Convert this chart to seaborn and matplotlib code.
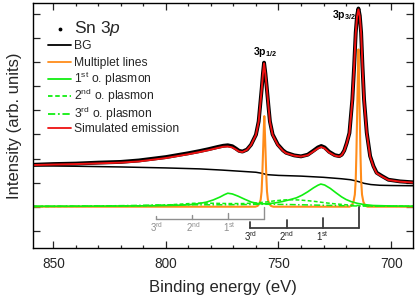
import matplotlib
matplotlib.use('Agg')
import matplotlib.pyplot as plt
import seaborn as sns
from matplotlib.ticker import MultipleLocator

# ---------------- data ----------------
# measured Sn 3p spectrum and simulated emission (binding energy in eV)
energy = [859, 850, 840, 830, 820, 812, 806, 800, 795, 790, 785, 781, 777, 774.5,
          772.5, 770.5, 769, 767.5, 766, 764, 762.2, 760, 758.8, 758.1, 757.4, 756.9,
          756.4, 755.8, 755.2, 754.5, 753.8, 752.6, 750.3, 748, 746.6, 743, 740, 737,
          734.7, 732.5, 731, 729.5, 727.5, 725, 723, 721.9, 720.8, 719.7, 718.5, 717.2,
          716.4, 715.7, 715.1, 714.5, 713.9, 713.3, 712.7, 712.0, 710.8, 709.3, 707.8,
          706.4, 704, 701.2, 696, 690]
data_int = [1.74, 1.77, 1.79, 1.83, 1.86, 1.92, 1.99, 2.06, 2.14, 2.22, 2.31, 2.39, 2.48,
            2.53, 2.55, 2.51, 2.42, 2.32, 2.29, 2.37, 2.57, 2.99, 3.54, 4.24, 4.95, 5.53,
            5.98, 5.52, 4.94, 4.22, 3.54, 3.00, 2.58, 2.34, 2.24, 2.13, 2.09, 2.16, 2.31,
            2.46, 2.52, 2.46, 2.28, 2.14, 2.10, 2.16, 2.33, 2.64, 3.06, 4.45, 5.84, 7.23,
            7.94, 8.23, 7.93, 7.22, 5.83, 4.45, 3.07, 2.10, 1.68, 1.41, 1.27, 1.12, 1.05, 1.01]
sim_int = [1.73, 1.75, 1.77, 1.80, 1.83, 1.88, 1.95, 2.02, 2.10, 2.18, 2.27, 2.35, 2.44,
           2.49, 2.50, 2.46, 2.38, 2.29, 2.27, 2.36, 2.56, 2.98, 3.53, 4.22, 4.93, 5.50,
           5.95, 5.50, 4.93, 4.22, 3.53, 2.98, 2.56, 2.32, 2.22, 2.12, 2.08, 2.14, 2.28,
           2.42, 2.48, 2.42, 2.25, 2.12, 2.08, 2.15, 2.32, 2.63, 3.05, 4.43, 5.81, 7.20,
           7.90, 8.19, 7.90, 7.20, 5.81, 4.43, 3.05, 2.08, 1.66, 1.39, 1.25, 1.11, 1.04, 1.00]

# background
bg_energy = [859, 840, 820, 800, 785, 775, 765, 760, 757.5, 755, 750, 740, 730, 722,
             718, 716, 714, 712, 709, 705, 700, 690]
bg_int = [1.70, 1.68, 1.65, 1.61, 1.57, 1.52, 1.46, 1.43, 1.39, 1.33, 1.30, 1.27, 1.22,
          1.16, 1.12, 1.08, 1.03, 0.97, 0.92, 0.89, 0.88, 0.87]

# multiplet lines
ml_energy = [859, 760.3, 759.3, 758.5, 757.9, 757.5, 757.2, 756.9, 756.6, 756.3, 756.0,
             755.7, 755.4, 755.1, 754.7, 754.1, 753.3, 752.3, 718.5, 717.5, 716.7, 716.1,
             715.7, 715.4, 715.1, 714.8, 714.5, 714.2, 713.9, 713.6, 713.3, 712.9, 712.3,
             711.5, 710.5, 690]
ml_int = [0, 0, 0.03, 0.12, 0.29, 0.63, 1.27, 2.13, 3.0, 3.76, 3.0, 2.13, 1.27, 0.63,
          0.29, 0.12, 0.03, 0, 0, 0.05, 0.2, 0.5, 1.1, 2.2, 3.7, 5.2, 6.53, 5.2, 3.7, 2.2,
          1.1, 0.5, 0.2, 0.05, 0, 0]

# plasmons
p1_energy = [859, 840, 820, 805, 795, 790, 786, 782, 779, 776, 774, 772.5, 770.5, 768,
             765, 762, 759, 756, 752, 748, 745, 742, 739.5, 737, 734.5, 732.5, 731.2,
             729.5, 727, 724.5, 722, 720, 717.7, 715, 712, 708, 700, 690]
p1_int = [0.02, 0.02, 0.03, 0.04, 0.06, 0.08, 0.12, 0.19, 0.28, 0.40, 0.50, 0.56, 0.53,
          0.44, 0.31, 0.19, 0.13, 0.12, 0.15, 0.22, 0.29, 0.37, 0.48, 0.62, 0.78, 0.89,
          0.94, 0.90, 0.76, 0.58, 0.41, 0.30, 0.21, 0.14, 0.09, 0.05, 0.03, 0.02]
p2_energy = [859, 830, 810, 800, 793, 788, 783, 778, 772, 766, 761, 756, 752, 748, 745,
             741, 737, 733, 729, 725, 720, 715, 708, 700, 690]
p2_int = [0.01, 0.02, 0.04, 0.07, 0.11, 0.14, 0.15, 0.14, 0.13, 0.13, 0.15, 0.19, 0.24,
          0.28, 0.29, 0.28, 0.25, 0.21, 0.16, 0.12, 0.08, 0.05, 0.03, 0.02, 0.02]
p3_energy = [859, 830, 815, 805, 795, 785, 775, 765, 760, 752, 745, 735, 725, 715, 700, 690]
p3_int = [0.01, 0.03, 0.05, 0.07, 0.08, 0.08, 0.08, 0.09, 0.10, 0.10, 0.09, 0.07, 0.05,
          0.03, 0.02, 0.01]

# plasmon order brackets
gray_marks = [804.3, 788.2, 772.3, 756.3]
black_marks = [762.5, 746.4, 730.4, 714.4]
order_labels = [r'3$^{\mathrm{rd}}$', r'2$^{\mathrm{nd}}$', r'1$^{\mathrm{st}}$']

peak_labels = [r'$\mathbf{3p_{1/2}}$', r'$\mathbf{3p_{3/2}}$']
peak_label_pos = [(755.8, 6.43), (721.1, 7.96)]

legend_labels = [r'Sn 3$p$', 'BG', 'Multiplet lines', r'1$^{\mathrm{st}}$ o. plasmon',
                 r'2$^{\mathrm{nd}}$ o. plasmon', r'3$^{\mathrm{rd}}$ o. plasmon',
                 'Simulated emission']

# ---------------- styling ----------------
sns.set_style('ticks')
plt.rcParams['font.family'] = ['Liberation Sans', 'DejaVu Sans']
plt.rcParams['mathtext.fontset'] = 'custom'
plt.rcParams['mathtext.rm'] = 'Liberation Sans'
plt.rcParams['mathtext.it'] = 'Liberation Sans:italic'
plt.rcParams['mathtext.bf'] = 'Liberation Sans:bold'

ORANGE = '#ff8c1a'
GREEN = '#11ee11'
RED = '#ee1111'
DASH2 = (0, (2.5, 1.5))
DASH3 = (0, (4, 1.5, 1, 1.5))

W, H = 415, 300
fig = plt.figure(figsize=(W / 100, H / 100), dpi=100)
AX_L, AX_R, AX_T, AX_B = 33, 412.7, 2.7, 248.3
ax = fig.add_axes([AX_L / W, 1 - AX_B / H, (AX_R - AX_L) / W, (AX_B - AX_T) / H])

kw = dict(ax=ax, sort=False, estimator=None)
sns.lineplot(x=bg_energy, y=bg_int, color='black', lw=1.1, **kw)
sns.lineplot(x=ml_energy, y=ml_int, color=ORANGE, lw=1.5, **kw)
sns.lineplot(x=p3_energy, y=p3_int, color=GREEN, lw=1.1, linestyle=DASH3, **kw)
sns.lineplot(x=p2_energy, y=p2_int, color=GREEN, lw=1.1, linestyle=DASH2, **kw)
sns.lineplot(x=p1_energy, y=p1_int, color=GREEN, lw=1.2, **kw)
sns.lineplot(x=energy, y=data_int, color='black', lw=2.8, **kw)
sns.lineplot(x=energy, y=sim_int, color=RED, lw=1.4, **kw)

# brackets
GRAY = '#8f8f8f'
DARK = '#3a3a3a'
gray_bar_y = -0.51
gray_tops = [-0.40, -0.33, -0.26, 0.0]
black_bar_y = -0.90
black_tops = [-0.65, -0.55, -0.46, 0.0]
ax.plot([gray_marks[0], gray_marks[-1]], [gray_bar_y, gray_bar_y], color=GRAY, lw=1.0)
for xm, yt in zip(gray_marks, gray_tops):
    ax.plot([xm, xm], [gray_bar_y, yt], color=GRAY, lw=1.0)
ax.plot([black_marks[0], black_marks[-1]], [black_bar_y, black_bar_y], color=DARK, lw=1.3)
for xm, yt in zip(black_marks, black_tops):
    ax.plot([xm, xm], [black_bar_y, yt], color=DARK, lw=1.3)
for xm, lab in zip(gray_marks[:3], order_labels):
    ax.text(xm - 0.3, -0.85, lab, color=GRAY, fontsize=7, ha='center', va='center')
for xm, lab in zip(black_marks[:3], order_labels):
    ax.text(xm, -1.24, lab, color='#222222', fontsize=7, ha='center', va='center')

for (xp, yp), lab in zip(peak_label_pos, peak_labels):
    ax.text(xp, yp, lab, fontsize=7.5, ha='center', va='center', color='black')

# axes
ax.set_xlim(859, 690.4)
ax.set_ylim(-1.727, 8.47)
ax.set_xticks([850, 800, 750, 700])
ax.xaxis.set_minor_locator(MultipleLocator(10))
ax.set_yticks(range(-1, 9))
ax.tick_params(which='both', direction='in', top=True, right=True, width=0.9,
               labelleft=False, labelsize=9.8, pad=6)
ax.tick_params(which='major', length=5)
ax.tick_params(which='minor', length=2.5)
for s in ax.spines.values():
    s.set_linewidth(1.0)
    s.set_color('black')
ax.set_xlabel('Binding energy (eV)', fontsize=12, labelpad=7)
ax.set_ylabel('Intensity (arb. units)', fontsize=12, labelpad=8)


# ---------------- legend (placed in axes fraction) ----------------
def fx(px):
    return (px - AX_L) / (AX_R - AX_L)


def fy(py):
    return (AX_B - py) / (AX_B - AX_T)


row_py = [29.3, 45, 61.7, 79, 96.3, 113.7, 128.3]
handle_styles = [
    None,
    dict(color='black', ls='-'),
    dict(color=ORANGE, ls='-'),
    dict(color=GREEN, ls='-'),
    dict(color=GREEN, ls=DASH2),
    dict(color=GREEN, ls=DASH3),
    dict(color=RED, ls='-'),
]
tr = ax.transAxes
for i, (py, lab, st) in enumerate(zip(row_py, legend_labels, handle_styles)):
    if st is None:
        ax.plot([fx(59.5)], [fy(py)], marker='.', ms=3.5, color='black', ls='none',
                transform=tr, clip_on=False)
        ax.text(fx(74), fy(33.3), lab, fontsize=12.5, ha='left', va='baseline',
                transform=tr)
    else:
        ax.plot([fx(48.3), fx(70.7)], [fy(py), fy(py)], lw=1.3, transform=tr,
                clip_on=False, **st)
        ax.text(fx(74), fy(py + 4.0), lab, fontsize=8.7, ha='left', va='baseline',
                transform=tr)

fig.savefig('out.png', dpi=100)
